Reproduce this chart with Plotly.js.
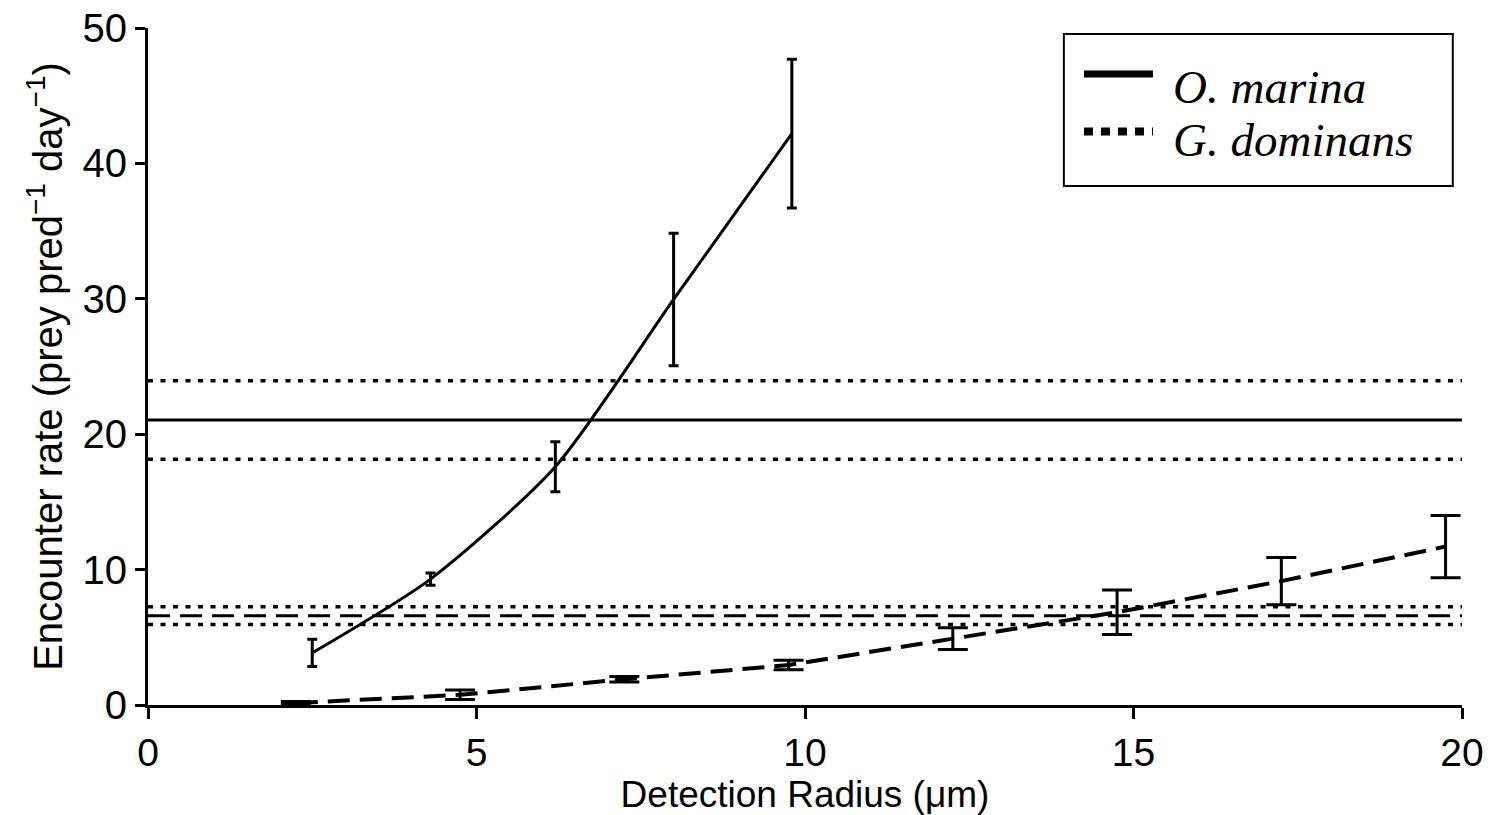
<!DOCTYPE html>
<html>
<head>
<meta charset="utf-8">
<script src="https://cdn.plot.ly/plotly-3.0.1.min.js"></script>
<style>
  html, body { margin: 0; padding: 0; background: #fff; }
  #chart { width: 1491px; height: 815px; }
</style>
</head>
<body>
<div id="chart"></div>
<script>
// Modelled encounter rates versus detection radius
const omRadius = [2.5, 4.3, 6.2, 8.0, 9.8];
const omRate   = [3.85, 9.3, 17.6, 29.95, 42.2];
const omErr    = [1.0, 0.45, 1.85, 4.9, 5.5];

const gdRadius = [2.25, 4.75, 7.25, 9.75, 12.25, 14.75, 17.25, 19.75];
const gdRate   = [0.15, 0.75, 1.9, 2.95, 4.9, 6.85, 9.15, 11.7];
const gdErr    = [0.1, 0.35, 0.2, 0.35, 0.8, 1.65, 1.75, 2.3];

// Observed encounter rates (mean with lower / upper bounds)
const radiusSpan = [0, 20];
const omObserved = [21.05, 18.15, 23.95];
const gdObserved = [6.6, 5.95, 7.25];

const xTicks = [0, 5, 10, 15, 20];
const yTicks = [0, 10, 20, 30, 40, 50];

const sansFont = '"Liberation Sans", Arial, Helvetica, sans-serif';
const serifFont = '"Liberation Serif", "Times New Roman", serif';

function hline(v, dash, width) {
  return {
    x: radiusSpan, y: [v, v], mode: 'lines', showlegend: false, hoverinfo: 'skip',
    line: { color: '#000', width: width, dash: dash }
  };
}

const traces = [
  hline(omObserved[0], 'solid', 3),
  hline(omObserved[1], '5px,7.5px', 3.5),
  hline(omObserved[2], '5px,7.5px', 3.5),
  hline(gdObserved[0], '22px,10px', 3),
  hline(gdObserved[1], '5px,7.5px', 3.5),
  hline(gdObserved[2], '5px,7.5px', 3.5),
  {
    x: omRadius, y: omRate, mode: 'lines', showlegend: false,
    line: { color: '#000', width: 3, shape: 'spline', smoothing: 0.7 },
    error_y: { type: 'data', array: omErr, visible: true, color: '#000', thickness: 3, width: 5 }
  },
  {
    x: gdRadius, y: gdRate, mode: 'lines', showlegend: false,
    line: { color: '#000', width: 4, dash: '22px,10px' },
    error_y: { type: 'data', array: gdErr, visible: true, color: '#000', thickness: 3, width: 15 }
  }
];

const layout = {
  width: 1491, height: 815,
  margin: { l: 148, r: 29, t: 28, b: 110 },
  paper_bgcolor: '#fff', plot_bgcolor: '#fff',
  showlegend: false,
  font: { family: sansFont, color: '#000', size: 40 },
  xaxis: {
    range: [0, 20], tickvals: xTicks, ticktext: xTicks.map(String),
    showgrid: false, zeroline: false, showline: true, linecolor: '#000', linewidth: 3,
    ticks: 'outside', ticklen: 11, tickwidth: 3, tickcolor: '#000',
    tickfont: { family: sansFont, size: 39, color: '#000' },
    title: { text: 'Detection Radius (μm)', font: { family: sansFont, size: 37, color: '#000' }, standoff: 4 }
  },
  yaxis: {
    range: [0, 50], tickvals: yTicks, ticktext: yTicks.map(String),
    showgrid: false, zeroline: false, showline: true, linecolor: '#000', linewidth: 3,
    ticks: 'outside', ticklen: 10, tickwidth: 3, tickcolor: '#000',
    tickfont: { family: sansFont, size: 40, color: '#000' },
    title: {
      text: 'Encounter rate (prey pred<sup>−1</sup> day<sup>−1</sup>)',
      font: { family: sansFont, size: 40, color: '#000' }, standoff: 8
    }
  },
  shapes: [
    { type: 'rect', xref: 'paper', yref: 'paper', x0: 0.697, x1: 0.993, y0: 0.7666, y1: 0.991,
      line: { color: '#000', width: 2 }, fillcolor: '#fff' },
    { type: 'line', xref: 'paper', yref: 'paper', x0: 0.7123, x1: 0.7648, y0: 0.932, y1: 0.932,
      line: { color: '#000', width: 7 } },
    { type: 'line', xref: 'paper', yref: 'paper', x0: 0.7123, x1: 0.7648, y0: 0.847, y1: 0.847,
      line: { color: '#000', width: 8, dash: '9px,8px' } }
  ],
  annotations: [
    { xref: 'paper', yref: 'paper', x: 0.7786, y: 0.913, xanchor: 'left', yanchor: 'middle',
      text: '<i>O. marina</i>', showarrow: false, font: { family: serifFont, size: 47, color: '#000' } },
    { xref: 'paper', yref: 'paper', x: 0.7786, y: 0.834, xanchor: 'left', yanchor: 'middle',
      text: '<i>G. dominans</i>', showarrow: false, font: { family: serifFont, size: 47, color: '#000' } }
  ]
};

Plotly.newPlot('chart', traces, layout, { staticPlot: true, displayModeBar: false });
</script>
</body>
</html>
